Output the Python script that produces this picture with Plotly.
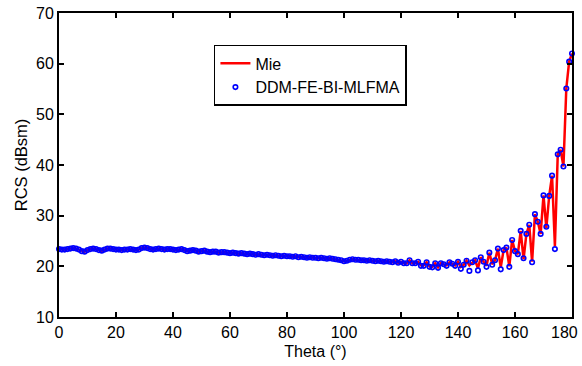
import plotly.graph_objects as go

theta = list(range(181))

rcs_head = [
    23.4, 23.3, 23.3, 23.4, 23.5, 23.6, 23.5, 23.3, 23.0, 22.9,
    23.2, 23.4, 23.5, 23.4, 23.2, 23.1, 23.3, 23.5, 23.5, 23.4,
    23.3, 23.3, 23.2, 23.3, 23.3, 23.4, 23.3, 23.2, 23.3, 23.6,
    23.7, 23.6, 23.4, 23.3, 23.4, 23.5, 23.4, 23.3, 23.4, 23.4,
    23.3, 23.2, 23.3, 23.4, 23.2, 23.0, 23.1, 23.2, 23.1, 22.9,
    23.0, 23.1, 22.9, 22.8, 22.9, 22.9, 22.7, 22.8, 22.8, 22.7,
    22.6, 22.7, 22.6, 22.5, 22.6, 22.5, 22.4, 22.5, 22.4, 22.3,
    22.4, 22.3, 22.2, 22.3, 22.2, 22.1, 22.2, 22.1, 22.0, 22.1,
    22.0, 22.0, 21.9, 22.0, 21.8, 21.9, 21.8, 21.7, 21.8, 21.7,
    21.7, 21.6, 21.7, 21.6, 21.5, 21.6, 21.5, 21.4, 21.3, 21.2,
    21.0, 21.1, 21.3, 21.4, 21.3, 21.3, 21.2, 21.2, 21.1, 21.2,
    21.1, 21.0, 21.1, 21.0, 20.9, 21.0, 20.9, 20.8, 21.0, 20.7,
]

# DDM-FE-BI-MLFMA, theta 120..180
ddm_tail = [
    20.9, 20.6, 20.6, 21.2, 20.6, 20.6, 20.9, 20.1, 20.1, 20.8,
    19.9, 19.8, 20.6, 19.7, 20.6, 20.4, 20.1, 20.8, 20.5, 20.1,
    20.9, 19.5, 20.3, 21.1, 19.1, 20.8, 21.2, 19.2, 21.8, 20.9,
    19.9, 22.7, 20.3, 21.2, 23.5, 19.4, 23.2, 23.7, 19.9, 25.2,
    23.0, 22.4, 27.0, 21.6, 26.4, 28.2, 20.8, 30.3, 28.8, 26.4,
    34.0, 27.8, 33.9, 37.9, 23.4, 42.1, 43.0, 39.7, 55.1, 60.4,
    62.0,
]

# Mie, theta 120..180
mie_tail = [
    20.9, 20.6, 20.6, 21.2, 20.6, 20.6, 20.9, 20.2, 20.2, 20.8,
    20.0, 19.9, 20.6, 19.8, 20.6, 20.4, 20.2, 20.8, 20.5, 20.2,
    20.9, 19.9, 20.3, 21.1, 20.2, 20.8, 21.2, 19.6, 21.8, 20.9,
    20.1, 22.7, 20.4, 21.2, 23.5, 19.8, 23.2, 23.7, 20.0, 25.2,
    23.0, 22.4, 27.0, 21.4, 26.4, 28.2, 20.9, 30.3, 28.8, 26.4,
    34.0, 27.6, 33.9, 37.9, 24.0, 42.1, 43.0, 39.7, 55.1, 60.4,
    62.0,
]

ddm = rcs_head + ddm_tail
mie = rcs_head + mie_tail

x_ticks = [0, 20, 40, 60, 80, 100, 120, 140, 160, 180]
x_tick_labels = ["0", "20", "40", "60", "80", "100", "120", "140", "160", "180"]
y_ticks = [10, 20, 30, 40, 50, 60, 70]
y_tick_labels = ["10", "20", "30", "40", "50", "60", "70"]

FONT = "Liberation Sans, Arial, Helvetica, sans-serif"

fig = go.Figure()
fig.add_trace(go.Scatter(
    x=theta, y=mie, mode="lines", name="Mie",
    line=dict(color="#ff0000", width=2.5),
    cliponaxis=False,
))
fig.add_trace(go.Scatter(
    x=theta, y=ddm, mode="markers", name="DDM-FE-BI-MLFMA",
    marker=dict(symbol="circle-open", color="#0000ff", size=4.5,
                line=dict(color="#0000ff", width=1.6)),
    cliponaxis=False,
))

axis_common = dict(
    showline=True, linecolor="black", linewidth=2, mirror="ticks",
    ticks="inside", ticklen=5, tickwidth=1.5, tickcolor="black",
    showgrid=False, zeroline=False, automargin=False,
    ticklabeloverflow="allow",
    tickfont=dict(family=FONT, size=16, color="black"),
)

# last x tick label is drawn as an annotation so it stays inside the page
fig.update_xaxes(
    range=[0, 180], tickvals=x_ticks, ticktext=x_tick_labels[:-1] + [""],
    title=dict(text="Theta (°)", font=dict(family=FONT, size=16, color="black"), standoff=6),
    **axis_common,
)
fig.update_yaxes(
    range=[10, 70], tickvals=y_ticks, ticktext=y_tick_labels,
    title=dict(text="RCS (dBsm)", font=dict(family=FONT, size=16.5, color="black"), standoff=4),
    **axis_common,
)

fig.add_annotation(
    x=x_ticks[-1], xref="x", y=0, yref="paper",
    text=x_tick_labels[-1], showarrow=False,
    xanchor="right", yanchor="top", xshift=8, yshift=-5,
    font=dict(family=FONT, size=16, color="black"),
)

fig.update_layout(
    width=582, height=366,
    margin=dict(l=59, r=10, t=13, b=49),
    paper_bgcolor="white", plot_bgcolor="white",
    font=dict(family=FONT, size=16, color="black"),
    showlegend=True,
    legend=dict(
        x=0.302, y=0.895, xanchor="left", yanchor="top",
        bgcolor="white", bordercolor="black", borderwidth=1.5,
        font=dict(family=FONT, size=16, color="black"),
        itemwidth=30, tracegroupgap=0,
    ),
)

fig.write_html(
    "out.html",
    config={"displayModeBar": False},
    post_script="document.body.style.margin='0';document.body.style.overflow='hidden';",
)
